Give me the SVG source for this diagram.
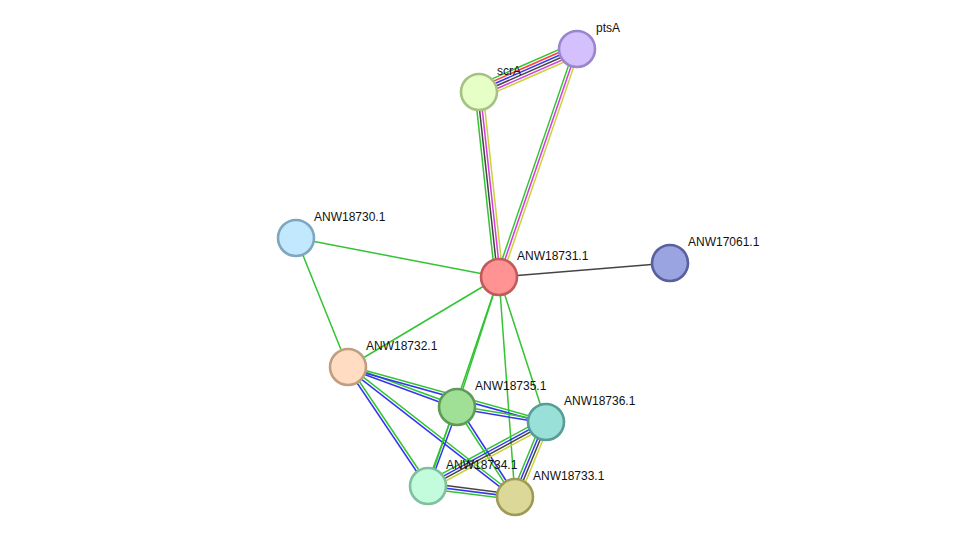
<svg xmlns="http://www.w3.org/2000/svg" width="975" height="543" viewBox="0 0 975 543">
<style>
line{stroke-width:1.5;fill:none}
.g{stroke:#33c433}.r{stroke:#ff3b3b}.b{stroke:#3535f0}.k{stroke:#444444}.m{stroke:#d83bd8}.y{stroke:#c8d23c}
.node circle{stroke-width:2.6}
text{font-family:"Liberation Sans",Arial,sans-serif;font-size:12px;fill:#111}
</style>
<rect width="975" height="543" fill="#ffffff"/>
<g id="connectors">
<g transform="translate(479,92) rotate(-23.69)"><line class="g" x1="0" y1="-6.75" x2="107" y2="-6.75"/><line class="r" x1="0" y1="-4.05" x2="107" y2="-4.05"/><line class="b" x1="0" y1="-1.35" x2="107" y2="-1.35"/><line class="k" x1="0" y1="1.35" x2="107" y2="1.35"/><line class="m" x1="0" y1="4.05" x2="107" y2="4.05"/><line class="y" x1="0" y1="6.75" x2="107" y2="6.75"/></g>
<g transform="translate(479,92) rotate(83.83)"><line class="g" x1="0" y1="4.05" x2="186" y2="4.05"/><line class="k" x1="0" y1="1.35" x2="186" y2="1.35"/><line class="m" x1="0" y1="-1.35" x2="186" y2="-1.35"/><line class="y" x1="0" y1="-4.05" x2="186" y2="-4.05"/></g>
<g transform="translate(577,49) rotate(108.89)"><line class="g" x1="0" y1="2.7" x2="241" y2="2.7"/><line class="m" x1="0" y1="0" x2="241" y2="0"/><line class="y" x1="0" y1="-2.7" x2="241" y2="-2.7"/></g>
<line class="g" x1="296" y1="238" x2="499" y2="277"/>
<line class="g" x1="296" y1="238" x2="348" y2="367"/>
<line class="k" x1="499" y1="277" x2="670" y2="263"/>
<line class="g" x1="499" y1="277" x2="348" y2="367"/>
<line class="g" x1="499" y1="277" x2="457" y2="407"/>
<line class="g" x1="499" y1="277" x2="428" y2="486"/>
<line class="g" x1="499" y1="277" x2="515" y2="497"/>
<line class="g" x1="499" y1="277" x2="546" y2="422"/>
<g transform="translate(348,367) rotate(20.15)"><line class="g" x1="0" y1="-1.35" x2="116" y2="-1.35"/><line class="b" x1="0" y1="1.35" x2="116" y2="1.35"/></g>
<g transform="translate(348,367) rotate(15.52)"><line class="g" x1="0" y1="-1.35" x2="205.5" y2="-1.35"/><line class="b" x1="0" y1="1.35" x2="205.5" y2="1.35"/></g>
<g transform="translate(348,367) rotate(56.09)"><line class="b" x1="0" y1="1.35" x2="143.4" y2="1.35"/><line class="g" x1="0" y1="-1.35" x2="143.4" y2="-1.35"/></g>
<g transform="translate(348,367) rotate(37.9)"><line class="b" x1="0" y1="1.35" x2="211.6" y2="1.35"/><line class="g" x1="0" y1="-1.35" x2="211.6" y2="-1.35"/></g>
<g transform="translate(457,407) rotate(9.57)"><line class="g" x1="0" y1="-1.35" x2="90.3" y2="-1.35"/><line class="b" x1="0" y1="1.35" x2="90.3" y2="1.35"/></g>
<g transform="translate(457,407) rotate(110.16)"><line class="g" x1="0" y1="1.35" x2="84.2" y2="1.35"/><line class="b" x1="0" y1="-1.35" x2="84.2" y2="-1.35"/></g>
<g transform="translate(457,407) rotate(57.2)"><line class="g" x1="0" y1="1.35" x2="107.1" y2="1.35"/><line class="b" x1="0" y1="-1.35" x2="107.1" y2="-1.35"/></g>
<g transform="translate(546,422) rotate(151.53)"><line class="g" x1="0" y1="4.05" x2="134.2" y2="4.05"/><line class="b" x1="0" y1="1.35" x2="134.2" y2="1.35"/><line class="k" x1="0" y1="-1.35" x2="134.2" y2="-1.35"/><line class="y" x1="0" y1="-4.05" x2="134.2" y2="-4.05"/></g>
<g transform="translate(546,422) rotate(112.46)"><line class="g" x1="0" y1="4.05" x2="81.2" y2="4.05"/><line class="b" x1="0" y1="1.35" x2="81.2" y2="1.35"/><line class="k" x1="0" y1="-1.35" x2="81.2" y2="-1.35"/><line class="y" x1="0" y1="-4.05" x2="81.2" y2="-4.05"/></g>
<g transform="translate(428,486) rotate(7.21)"><line class="k" x1="0" y1="-2.7" x2="87.7" y2="-2.7"/><line class="b" x1="0" y1="0" x2="87.7" y2="0"/><line class="g" x1="0" y1="2.7" x2="87.7" y2="2.7"/></g>
</g>
<g id="ptsA" class="node"><circle cx="577" cy="49" r="18" fill="#d4c0fd" stroke="#9b85cc"/><text x="596" y="32">ptsA</text></g>
<g id="scrA" class="node"><circle cx="479" cy="92" r="18" fill="#e6ffc6" stroke="#a6c184"/><text x="497" y="75">scrA</text></g>
<g id="ANW18730.1" class="node"><circle cx="296" cy="238" r="18" fill="#c2e8fd" stroke="#7da6bf"/><text x="314" y="221">ANW18730.1</text></g>
<g id="ANW18731.1" class="node"><circle cx="499" cy="277" r="18" fill="#ff9292" stroke="#c05b5b"/><text x="517" y="260">ANW18731.1</text></g>
<g id="ANW17061.1" class="node"><circle cx="670" cy="263" r="18" fill="#9aa4e0" stroke="#5a5f9e"/><text x="688" y="246">ANW17061.1</text></g>
<g id="ANW18732.1" class="node"><circle cx="348" cy="367" r="18" fill="#ffdcc2" stroke="#bf9f82"/><text x="366" y="350">ANW18732.1</text></g>
<g id="ANW18735.1" class="node"><circle cx="457" cy="407" r="18" fill="#9fdf96" stroke="#5f9a58"/><text x="475" y="390">ANW18735.1</text></g>
<g id="ANW18736.1" class="node"><circle cx="546" cy="422" r="18" fill="#98e0d8" stroke="#569e95"/><text x="564" y="405">ANW18736.1</text></g>
<g id="ANW18734.1" class="node"><circle cx="428" cy="486" r="18" fill="#c2fcdc" stroke="#80c09e"/><text x="446" y="469">ANW18734.1</text></g>
<g id="ANW18733.1" class="node"><circle cx="515" cy="497" r="18" fill="#dcd898" stroke="#9e9a58"/><text x="533" y="480">ANW18733.1</text></g>
</svg>
